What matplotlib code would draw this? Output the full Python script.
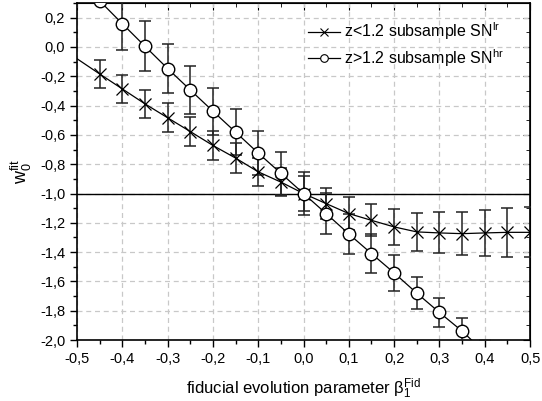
import numpy as np
import matplotlib
matplotlib.use("Agg")
import matplotlib.pyplot as plt
from matplotlib.ticker import MultipleLocator, FuncFormatter

plt.rcParams['font.family'] = ['Liberation Sans', 'DejaVu Sans']
plt.rcParams['mathtext.fontset'] = 'custom'
plt.rcParams['mathtext.rm'] = 'Liberation Sans'
plt.rcParams['mathtext.it'] = 'Liberation Sans:italic'

# z<1.2 subsample (crosses)
x_lr = [-0.5, -0.45, -0.4, -0.35, -0.3, -0.25, -0.2, -0.15, -0.1, -0.05, 0.0,
        0.05, 0.1, 0.15, 0.2, 0.25, 0.3, 0.35, 0.4, 0.45, 0.5]
w_lr = [-0.08, -0.184, -0.286, -0.388, -0.483, -0.577, -0.672, -0.758, -0.852, -0.922, -1.0,
        -1.069, -1.137, -1.183, -1.228, -1.262, -1.269, -1.274, -1.269, -1.265, -1.265]
err_lr = [np.nan, 0.098, 0.098, 0.097, 0.098, 0.1, 0.1, 0.1, 0.097, 0.095, 0.12,
          0.106, 0.11, 0.11, 0.125, 0.13, 0.14, 0.145, 0.155, 0.165, 0.17]

# z>1.2 subsample (circles)
x_hr = [-0.45, -0.4, -0.35, -0.3, -0.25, -0.2, -0.15, -0.1, -0.05, 0.0,
        0.05, 0.1, 0.15, 0.2, 0.25, 0.3, 0.35, 0.4]
w_hr = [0.315, 0.159, 0.005, -0.147, -0.293, -0.438, -0.581, -0.724, -0.862, -1.0,
        -1.137, -1.276, -1.41, -1.542, -1.68, -1.812, -1.939, -2.085]
err_hr = [np.nan, 0.177, 0.17, 0.167, 0.162, 0.16, 0.157, 0.152, 0.148, 0.145,
          0.142, 0.138, 0.135, 0.12, 0.11, 0.1, 0.09, 0.085]

fig = plt.figure(figsize=(5.42, 4.01), dpi=100)
ax = fig.add_axes([0.142, 0.152, 0.836, 0.8405])

ax.axhline(-1.0, color='black', lw=1.0, zorder=2)

ax.errorbar(x_lr, w_lr, yerr=err_lr, fmt='none', ecolor='#222222', elinewidth=1.1,
            capsize=4.5, capthick=1.1, zorder=3)
ax.errorbar(x_hr, w_hr, yerr=err_hr, fmt='none', ecolor='#222222', elinewidth=1.1,
            capsize=4.5, capthick=1.1, zorder=3)
ax.plot(x_lr, w_lr, color='black', lw=0.9, zorder=4)
ax.plot(x_hr, w_hr, color='black', lw=0.9, zorder=4)
ax.plot(x_lr[1:], w_lr[1:], ls='none', marker='x', ms=9, mew=0.9, color='black', zorder=5)
ax.plot(x_hr, w_hr, ls='none', marker='o', ms=9, mew=1.0, mfc='white', mec='black', zorder=5)

# legend handles
h1, = ax.plot([], [], color='black', lw=0.9, marker='x', ms=5.5, mew=0.8)
h2, = ax.plot([], [], color='black', lw=0.9, marker='o', ms=5.5, mew=0.8, mfc='white')
ax.legend([h1, h2], [r'z<1.2 subsample SN$^{\rm lr}$', r'z>1.2 subsample SN$^{\rm hr}$'],
          loc='upper right', bbox_to_anchor=(0.975, 0.99), frameon=False, fontsize=11.5,
          handlelength=2.0, handletextpad=0.3, labelspacing=0.3)

ax.set_xlim(-0.5, 0.5)
ax.set_ylim(-2.0, 0.3)
ax.xaxis.set_major_locator(MultipleLocator(0.1))
ax.xaxis.set_minor_locator(MultipleLocator(0.05))
ax.yaxis.set_major_locator(MultipleLocator(0.2))
ax.yaxis.set_minor_locator(MultipleLocator(0.1))

fmt = FuncFormatter(lambda v, p: ('%.1f' % v).replace('.', ',').replace('-0,0', '0,0'))
ax.xaxis.set_major_formatter(fmt)
ax.yaxis.set_major_formatter(fmt)

ax.grid(True, which='major', ls=(0, (4, 3)), color='#c8c8c8', lw=0.9)
ax.tick_params(which='both', direction='out', labelsize=10.5, width=1.0, colors='black')
ax.tick_params(which='major', length=5)
ax.tick_params(which='minor', length=3)

# inward ticks on top and right
axt = ax.secondary_xaxis('top')
axt.xaxis.set_major_locator(MultipleLocator(0.1))
axt.xaxis.set_minor_locator(MultipleLocator(0.05))
axt.tick_params(which='both', direction='in', labeltop=False)
axt.tick_params(which='major', length=5)
axt.tick_params(which='minor', length=3)
axr = ax.secondary_yaxis('right')
axr.yaxis.set_major_locator(MultipleLocator(0.2))
axr.yaxis.set_minor_locator(MultipleLocator(0.1))
axr.tick_params(which='both', direction='in', labelright=False)
axr.tick_params(which='major', length=5)
axr.tick_params(which='minor', length=3)

for s in ax.spines.values():
    s.set_linewidth(1.2)

ax.set_xlabel(r'fiducial evolution parameter $\mathrm{β}_1^{\rm Fid}$', fontsize=12, labelpad=8)
ax.set_ylabel(r'w$_0^{\rm fit}$', fontsize=13, labelpad=4)

fig.savefig('out.png', dpi=100)
